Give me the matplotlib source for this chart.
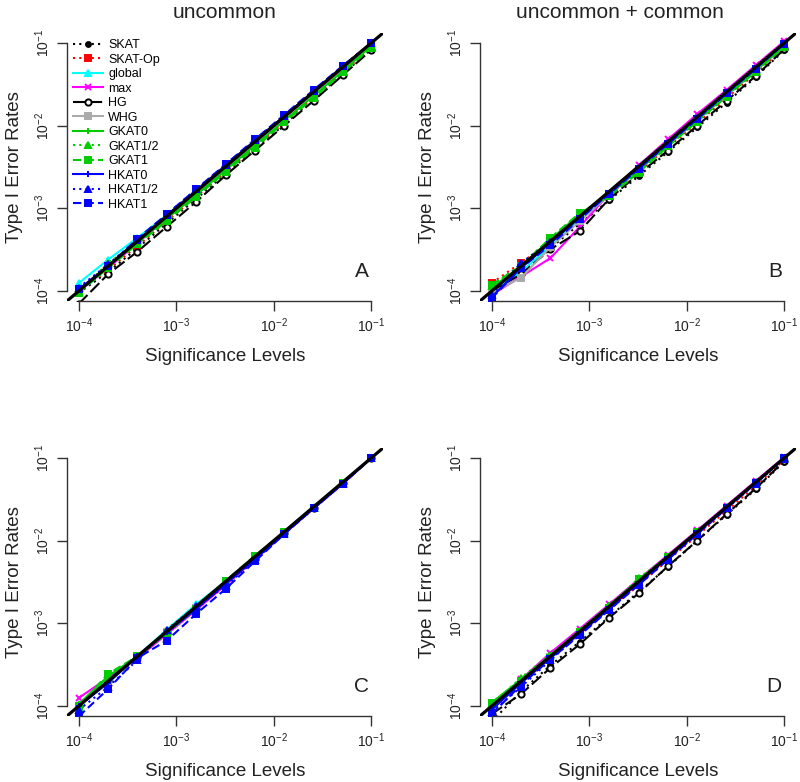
import matplotlib
matplotlib.use('Agg')
import matplotlib.pyplot as plt
from matplotlib.ticker import FixedLocator, NullLocator

plt.rcParams['font.family'] = ['Liberation Sans', 'DejaVu Sans']
plt.rcParams['mathtext.fontset'] = 'custom'
plt.rcParams['mathtext.rm'] = 'Liberation Sans'
plt.rcParams['mathtext.it'] = 'Liberation Sans'

# significance levels (x) shared by all panels
alpha = [1e-4, 2e-4, 4e-4, 8e-4, 1.6e-3, 3.2e-3, 6.4e-3, 1.28e-2, 2.56e-2, 5.12e-2, 1e-1]

methods = ['SKAT', 'SKAT-Op', 'global', 'max', 'HG', 'WHG',
           'GKAT0', 'GKAT1/2', 'GKAT1', 'HKAT0', 'HKAT1/2', 'HKAT1']

# Type I error rates, one row per method (order as in methods)
panel_a = [
    [0.95e-4, 1.7e-4, 3.3e-4, 6.6e-4, 1.30e-3, 2.6e-3, 5.2e-3, 1.03e-2, 2.1e-2, 4.2e-2, 8.4e-2],
    [1.0e-4, 1.8e-4, 3.5e-4, 7.0e-4, 1.38e-3, 2.75e-3, 5.5e-3, 1.09e-2, 2.2e-2, 4.4e-2, 8.8e-2],
    [1.25e-4, 2.4e-4, 4.4e-4, 8.3e-4, 1.62e-3, 3.2e-3, 6.3e-3, 1.26e-2, 2.5e-2, 5.0e-2, 9.8e-2],
    [1.0e-4, 1.9e-4, 3.8e-4, 7.6e-4, 1.55e-3, 3.1e-3, 6.2e-3, 1.24e-2, 2.5e-2, 4.9e-2, 9.7e-2],
    [0.7e-4, 1.6e-4, 3.0e-4, 6.0e-4, 1.2e-3, 2.5e-3, 5.0e-3, 1.0e-2, 2.0e-2, 4.1e-2, 8.2e-2],
    [1.05e-4, 2.0e-4, 4.0e-4, 8.0e-4, 1.6e-3, 3.2e-3, 6.4e-3, 1.27e-2, 2.55e-2, 5.1e-2, 1.0e-1],
    [1.0e-4, 2.0e-4, 3.9e-4, 7.5e-4, 1.45e-3, 2.9e-3, 5.8e-3, 1.15e-2, 2.3e-2, 4.6e-2, 9.2e-2],
    [0.95e-4, 2.2e-4, 3.8e-4, 7.2e-4, 1.4e-3, 2.8e-3, 5.6e-3, 1.12e-2, 2.2e-2, 4.5e-2, 9.0e-2],
    [0.95e-4, 1.9e-4, 3.7e-4, 7.0e-4, 1.38e-3, 2.75e-3, 5.4e-3, 1.1e-2, 2.15e-2, 4.4e-2, 8.8e-2],
    [1.05e-4, 2.0e-4, 4.1e-4, 8.2e-4, 1.65e-3, 3.3e-3, 6.6e-3, 1.3e-2, 2.6e-2, 5.2e-2, 1.0e-1],
    [1.1e-4, 2.1e-4, 4.2e-4, 8.4e-4, 1.7e-3, 3.35e-3, 6.7e-3, 1.32e-2, 2.65e-2, 5.3e-2, 1.0e-1],
    [1.05e-4, 2.0e-4, 4.3e-4, 8.5e-4, 1.7e-3, 3.4e-3, 6.8e-3, 1.35e-2, 2.7e-2, 5.3e-2, 1.0e-1],
]

panel_b = [
    [1.0e-4, 1.7e-4, 3.3e-4, 6.5e-4, 1.25e-3, 2.45e-3, 4.8e-3, 9.5e-3, 1.9e-2, 3.9e-2, 8.2e-2],
    [1.25e-4, 2.2e-4, 3.9e-4, 7.5e-4, 1.45e-3, 2.8e-3, 5.5e-3, 1.08e-2, 2.15e-2, 4.3e-2, 8.8e-2],
    [1.0e-4, 1.7e-4, 3.5e-4, 7.2e-4, 1.5e-3, 3.0e-3, 6.0e-3, 1.2e-2, 2.4e-2, 4.8e-2, 9.5e-2],
    [0.9e-4, 1.5e-4, 2.5e-4, 6.0e-4, 1.5e-3, 3.3e-3, 6.8e-3, 1.38e-2, 2.7e-2, 5.4e-2, 1.05e-1],
    [1.0e-4, 1.6e-4, 3.2e-4, 5.3e-4, 1.3e-3, 2.6e-3, 5.0e-3, 1.0e-2, 2.0e-2, 4.0e-2, 8.4e-2],
    [0.95e-4, 1.45e-4, 3.4e-4, 7.0e-4, 1.45e-3, 2.9e-3, 5.8e-3, 1.15e-2, 2.3e-2, 4.6e-2, 9.2e-2],
    [1.1e-4, 2.0e-4, 4.2e-4, 8.5e-4, 1.5e-3, 2.9e-3, 5.9e-3, 1.18e-2, 2.35e-2, 4.7e-2, 9.3e-2],
    [1.15e-4, 2.1e-4, 4.3e-4, 8.6e-4, 1.45e-3, 2.8e-3, 5.7e-3, 1.15e-2, 2.3e-2, 4.6e-2, 9.2e-2],
    [1.2e-4, 2.0e-4, 4.4e-4, 8.8e-4, 1.4e-3, 2.7e-3, 5.6e-3, 1.12e-2, 2.25e-2, 4.5e-2, 9.0e-2],
    [0.85e-4, 1.9e-4, 3.8e-4, 7.8e-4, 1.55e-3, 3.1e-3, 6.2e-3, 1.25e-2, 2.5e-2, 5.0e-2, 1.0e-1],
    [0.9e-4, 2.2e-4, 3.9e-4, 7.6e-4, 1.5e-3, 3.0e-3, 6.1e-3, 1.22e-2, 2.45e-2, 4.9e-2, 9.8e-2],
    [0.82e-4, 1.9e-4, 3.6e-4, 7.4e-4, 1.5e-3, 3.0e-3, 6.0e-3, 1.2e-2, 2.45e-2, 4.9e-2, 9.8e-2],
]

panel_c = [
    [1.0e-4, 2.0e-4, 3.9e-4, 7.8e-4, 1.55e-3, 3.1e-3, 6.2e-3, 1.25e-2, 2.5e-2, 5.0e-2, 1.0e-1],
    [1.0e-4, 2.0e-4, 3.8e-4, 7.6e-4, 1.5e-3, 3.0e-3, 6.1e-3, 1.24e-2, 2.5e-2, 5.0e-2, 1.0e-1],
    [1.05e-4, 2.1e-4, 4.0e-4, 8.4e-4, 1.7e-3, 3.2e-3, 6.3e-3, 1.27e-2, 2.55e-2, 5.0e-2, 1.0e-1],
    [1.25e-4, 2.2e-4, 3.8e-4, 7.4e-4, 1.45e-3, 2.9e-3, 5.9e-3, 1.22e-2, 2.45e-2, 4.9e-2, 9.9e-2],
    [1.0e-4, 2.0e-4, 3.9e-4, 7.7e-4, 1.5e-3, 3.0e-3, 6.0e-3, 1.24e-2, 2.5e-2, 5.0e-2, 1.0e-1],
    [1.0e-4, 2.0e-4, 3.9e-4, 7.8e-4, 1.55e-3, 3.1e-3, 6.2e-3, 1.25e-2, 2.5e-2, 5.0e-2, 1.0e-1],
    [1.05e-4, 2.3e-4, 4.0e-4, 8.0e-4, 1.55e-3, 3.2e-3, 6.5e-3, 1.28e-2, 2.55e-2, 5.0e-2, 1.0e-1],
    [0.95e-4, 2.2e-4, 3.9e-4, 7.8e-4, 1.5e-3, 3.1e-3, 6.3e-3, 1.25e-2, 2.5e-2, 5.0e-2, 1.0e-1],
    [1.0e-4, 2.45e-4, 4.0e-4, 7.6e-4, 1.5e-3, 3.25e-3, 6.6e-3, 1.26e-2, 2.5e-2, 5.0e-2, 1.0e-1],
    [1.0e-4, 1.9e-4, 4.0e-4, 7.8e-4, 1.5e-3, 3.0e-3, 6.0e-3, 1.22e-2, 2.45e-2, 4.9e-2, 1.0e-1],
    [0.9e-4, 1.7e-4, 3.6e-4, 8.4e-4, 1.6e-3, 2.8e-3, 5.8e-3, 1.2e-2, 2.45e-2, 4.9e-2, 1.0e-1],
    [0.75e-4, 1.6e-4, 3.8e-4, 6.2e-4, 1.3e-3, 2.6e-3, 5.6e-3, 1.2e-2, 2.45e-2, 4.9e-2, 1.0e-1],
]

panel_d = [
    [0.65e-4, 1.5e-4, 3.1e-4, 6.0e-4, 1.2e-3, 2.4e-3, 4.8e-3, 1.0e-2, 2.05e-2, 4.2e-2, 9.0e-2],
    [1.0e-4, 1.9e-4, 3.8e-4, 7.5e-4, 1.5e-3, 2.9e-3, 5.8e-3, 1.15e-2, 2.3e-2, 4.6e-2, 9.5e-2],
    [1.0e-4, 2.0e-4, 4.0e-4, 8.0e-4, 1.6e-3, 3.2e-3, 6.4e-3, 1.28e-2, 2.56e-2, 5.1e-2, 1.0e-1],
    [1.0e-4, 2.1e-4, 4.4e-4, 8.6e-4, 1.7e-3, 3.4e-3, 6.7e-3, 1.33e-2, 2.65e-2, 5.3e-2, 1.02e-1],
    [0.8e-4, 1.4e-4, 2.9e-4, 5.6e-4, 1.17e-3, 2.3e-3, 4.9e-3, 1.0e-2, 2.1e-2, 4.3e-2, 9.2e-2],
    [0.95e-4, 1.9e-4, 3.9e-4, 7.8e-4, 1.55e-3, 3.1e-3, 6.2e-3, 1.24e-2, 2.5e-2, 5.0e-2, 1.0e-1],
    [1.1e-4, 2.1e-4, 4.1e-4, 8.2e-4, 1.65e-3, 3.3e-3, 6.5e-3, 1.3e-2, 2.55e-2, 5.1e-2, 1.0e-1],
    [1.05e-4, 2.2e-4, 4.2e-4, 8.0e-4, 1.6e-3, 3.5e-3, 6.4e-3, 1.28e-2, 2.55e-2, 5.1e-2, 1.0e-1],
    [1.1e-4, 2.0e-4, 3.8e-4, 7.8e-4, 1.55e-3, 3.4e-3, 6.3e-3, 1.27e-2, 2.5e-2, 5.0e-2, 1.0e-1],
    [0.9e-4, 1.9e-4, 3.8e-4, 7.6e-4, 1.5e-3, 3.1e-3, 6.2e-3, 1.24e-2, 2.5e-2, 5.0e-2, 1.0e-1],
    [0.85e-4, 1.7e-4, 3.6e-4, 7.4e-4, 1.45e-3, 3.0e-3, 6.0e-3, 1.2e-2, 2.45e-2, 4.9e-2, 9.8e-2],
    [0.8e-4, 1.8e-4, 3.7e-4, 7.2e-4, 1.45e-3, 2.9e-3, 5.9e-3, 1.2e-2, 2.45e-2, 5.0e-2, 1.0e-1],
]

# line styles, like R's lty / pch / col
dotted = (0, (1, 2))
dashed = (0, (4, 2))
longdash = (0, (6, 2))
colors = ['black', 'red', 'cyan', 'magenta', 'black', '#aaaaaa',
          '#00cc00', '#00cc00', '#00cc00', '#0000ff', '#0000ff', '#0000ff']
styles = [dotted, dotted, '-', '-', longdash, '-',
          '-', dotted, dashed, '-', dotted, dashed]
markers = ['o', 's', '^', 'x', 'o', 's', '+', '^', 's', '+', '^', 's']
filled = [True, True, True, True, False, True, True, True, True, True, True, True]

W, H = 800, 782
fig = plt.figure(figsize=(W / 100, H / 100), dpi=100)

# axes boxes in pixels: left, top, right, bottom
boxes = [(67, 33, 383, 301), (480, 33, 796, 301),
         (67, 448, 383, 716), (480, 448, 796, 716)]
panels = [panel_a, panel_b, panel_c, panel_d]
letters = ['A', 'B', 'C', 'D']

lo = 10 ** (-4 - 0.12)
hi = 10 ** (-1 + 0.12)
ticks = [1e-4, 1e-3, 1e-2, 1e-1]
tick_labels = ['$10^{-4}$', '$10^{-3}$', '$10^{-2}$', '$10^{-1}$']

for k in range(4):
    l, t, r, b = boxes[k]
    ax = fig.add_axes([l / W, 1 - b / H, (r - l) / W, (b - t) / H])
    ax.set_xscale('log')
    ax.set_yscale('log')
    ax.set_xlim(lo, hi)
    ax.set_ylim(lo, hi)

    data = panels[k]
    for i in range(len(methods)):
        mfc = colors[i] if filled[i] else 'white'
        ms = 3.5 if markers[i] == 'o' and filled[i] else 4.5
        ax.plot(alpha, data[i], color=colors[i], linestyle=styles[i],
                marker=markers[i], markersize=ms, markerfacecolor=mfc,
                markeredgecolor=colors[i], markeredgewidth=1.4,
                linewidth=1.5, label=methods[i])

    ax.plot([lo, hi], [lo, hi], color='black', linewidth=2.3)

    for s in ['top', 'right']:
        ax.spines[s].set_visible(False)
    for s in ['left', 'bottom']:
        ax.spines[s].set_bounds(1e-4, 1e-1)
        ax.spines[s].set_color('#333333')
        ax.spines[s].set_linewidth(1.0)

    ax.xaxis.set_major_locator(FixedLocator(ticks))
    ax.yaxis.set_major_locator(FixedLocator(ticks))
    ax.xaxis.set_minor_locator(NullLocator())
    ax.yaxis.set_minor_locator(NullLocator())
    ax.set_xticklabels(tick_labels, fontsize=10, color='#222222')
    ax.set_yticklabels(tick_labels, fontsize=10, color='#222222',
                       rotation=90, va='center')
    ax.tick_params(length=7, width=1.0, color='#333333', pad=4)

    ax.text(0.955, 0.11, letters[k], transform=ax.transAxes, fontsize=15,
            ha='right', va='center', color='#222222')

    fig.text((l + r) / 2 / W, 1 - (b + 55) / H, 'Significance Levels',
             fontsize=13.5, ha='center', va='center', color='#222222')
    fig.text((l - 52) / W, 1 - (t + b) / 2 / H, 'Type I Error Rates',
             fontsize=13.5, ha='center', va='center', rotation=90,
             color='#222222')

    if k == 0:
        ax.legend(loc='upper left', bbox_to_anchor=(0.0, 1.0), frameon=False,
                  fontsize=9, handlelength=2.4, handletextpad=0.4,
                  labelspacing=0.2, borderaxespad=0.1)

fig.text(225 / W, 1 - 12 / H, 'uncommon', fontsize=15, ha='center',
         va='center', color='#222222')
fig.text(620 / W, 1 - 12 / H, 'uncommon + common', fontsize=15,
         ha='center', va='center', color='#222222')

fig.savefig('out.png', dpi=100)
